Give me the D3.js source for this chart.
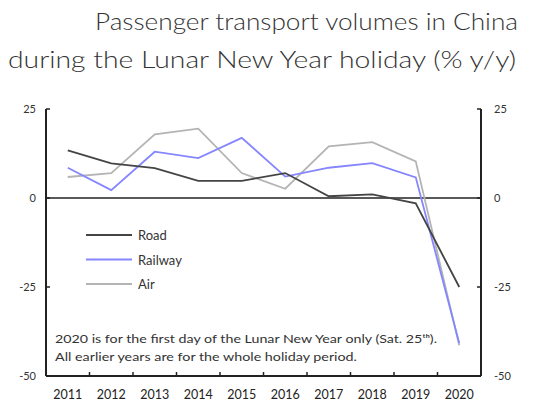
<!DOCTYPE html>
<html><head><meta charset="utf-8">
<script src="https://cdn.jsdelivr.net/npm/d3@7"></script>
<style>body{margin:0;background:#fff;font-family:Lato,"Open Sans",sans-serif}</style>
</head><body><div id="chart"></div>
<script>
const years = ["2011","2012","2013","2014","2015","2016","2017","2018","2019","2020"];
const road = [13.4, 9.7, 8.4, 4.8, 4.8, 7, 0.5, 1, -1.5, -25];
const railway = [8.5, 2.2, 13, 11.2, 16.9, 6, 8.5, 9.8, 5.8, -40.8];
const air = [5.9, 7, 17.9, 19.5, 7, 2.6, 14.5, 15.7, 10.3, -41.4];
const yTicks = [25, 0, -25, -50];

const W = 555, H = 411;
const svg = d3.select("#chart").append("svg").attr("width", W).attr("height", H);

svg.append("text").attr("x", 95).attr("y", 30).attr("textLength", 423).attr("lengthAdjust", "spacingAndGlyphs")
  .style("font-size", "24px").style("font-weight", 300).attr("fill", "#333")
  .text("Passenger transport volumes in China");
svg.append("text").attr("x", 8).attr("y", 68).attr("textLength", 508).attr("lengthAdjust", "spacingAndGlyphs")
  .style("font-size", "24px").style("font-weight", 300).attr("fill", "#333")
  .text("during the Lunar New Year holiday (% y/y)");

const x = d3.scaleBand().domain(years).range([46, 481]);
const y = d3.scaleLinear().domain([-50, 25]).range([376, 109]);
const cx = d => x(d) + x.bandwidth() / 2;

const axisCol = "#222";
svg.append("line").attr("x1", 46).attr("x2", 46).attr("y1", y(25)).attr("y2", y(-50)).attr("stroke", axisCol).attr("stroke-width", 2);
svg.append("line").attr("x1", 481).attr("x2", 481).attr("y1", y(25)).attr("y2", y(-50)).attr("stroke", axisCol).attr("stroke-width", 2);
svg.append("line").attr("x1", 46).attr("x2", 481).attr("y1", y(-50)).attr("y2", y(-50)).attr("stroke", axisCol).attr("stroke-width", 2);
svg.append("line").attr("x1", 46).attr("x2", 481).attr("y1", y(0)).attr("y2", y(0)).attr("stroke", axisCol).attr("stroke-width", 1.5);

yTicks.forEach(t => {
  svg.append("line").attr("x1", 46).attr("x2", 50).attr("y1", y(t)).attr("y2", y(t)).attr("stroke", axisCol).attr("stroke-width", 1.5);
  svg.append("line").attr("x1", 477).attr("x2", 481).attr("y1", y(t)).attr("y2", y(t)).attr("stroke", axisCol).attr("stroke-width", 1.5);
  svg.append("text").attr("x", 36).attr("y", y(t) + 4).attr("text-anchor", "end")
    .style("font-size", "11px").attr("fill", "#333").text(t);
  svg.append("text").attr("x", 494).attr("y", y(t) + 4)
    .style("font-size", "11px").attr("fill", "#333").text(t);
});
years.forEach((yr, i) => {
  if (i > 0) svg.append("line").attr("x1", x(yr)).attr("x2", x(yr)).attr("y1", y(-50)).attr("y2", y(-50) - 4).attr("stroke", axisCol).attr("stroke-width", 1.5);
  svg.append("text").attr("x", cx(yr)).attr("y", 399).attr("text-anchor", "middle")
    .style("font-size", "12.5px").attr("fill", "#222").text(yr);
});

const series = [
  { name: "Air", vals: air, color: "#b4b4b4" },
  { name: "Railway", vals: railway, color: "#8585ff" },
  { name: "Road", vals: road, color: "#444" }
];
const line = d3.line().x((d, i) => cx(years[i])).y(d => y(d));
series.forEach(s => {
  svg.append("path").datum(s.vals).attr("fill", "none").attr("stroke", s.color)
    .attr("stroke-width", 1.8).attr("d", line);
});

["Road", "Railway", "Air"].forEach((n, i) => {
  const s = series.find(d => d.name === n);
  const ly = 235 + i * 24.5;
  svg.append("line").attr("x1", 86).attr("x2", 132).attr("y1", ly).attr("y2", ly).attr("stroke", s.color).attr("stroke-width", 1.8);
  svg.append("text").attr("x", 138).attr("y", ly + 5).style("font-size", "13px").attr("fill", "#333").text(n);
});

svg.append("text").attr("x", 55).attr("y", 343).attr("textLength", 382).attr("lengthAdjust", "spacingAndGlyphs")
  .style("font-size", "11px").attr("fill", "#333")
  .text("2020 is for the first day of the Lunar New Year only (Sat. 25ᵗʰ).");
svg.append("text").attr("x", 55).attr("y", 361).attr("textLength", 302).attr("lengthAdjust", "spacingAndGlyphs")
  .style("font-size", "11px").attr("fill", "#333")
  .text("All earlier years are for the whole holiday period.");
</script></body></html>
